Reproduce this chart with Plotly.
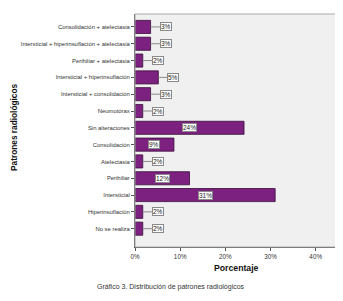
import plotly.graph_objects as go

categories = [
    "Consolidación + atelectasia",
    "Intersticial + hiperinsuflación + atelectasia",
    "Perihiliar + atelectasia",
    "Intersticial + hiperinsuflación",
    "Intersticial + consolidación",
    "Neumotórax",
    "Sin alteraciones",
    "Consolidación",
    "Atelectasia",
    "Perihiliar",
    "Intersticial",
    "Hiperinsuflación",
    "No se realiza",
]
percentages = [3.45, 3.45, 1.72, 5.17, 3.45, 1.72, 24.14, 8.62, 1.72, 12.07, 31.03, 1.72, 1.72]
labels = ["3%", "3%", "2%", "5%", "3%", "2%", "24%", "9%", "2%", "12%", "31%", "2%", "2%"]
x_ticks = [0, 10, 20, 30, 40]
x_tick_labels = ["0%", "10%", "20%", "30%", "40%"]

# page has an 8px body margin; work in figure coords = page coords - 8
OFF = 8
W, H = 343 - OFF, 301 - OFF
L, R, T = 135 - OFF, 7, 14 - OFF
B = H - (247 - OFF)
PW, PH = W - L - R, H - T - B


def px(xp):
    return (xp - OFF - L) / PW


def py(yp):
    return (H - B - (yp - OFF)) / PH


fig = go.Figure()
fig.add_trace(go.Bar(
    x=percentages, y=categories, orientation="h",
    marker=dict(color="#7c2180", line=dict(color="#3a0c3a", width=0.8)),
    width=0.78, hoverinfo="skip",
))

font_fam = "Liberation Sans, Arial, sans-serif"
annotations = []
for cat, val, lab in zip(categories, percentages, labels):
    if val >= 8:
        annotations.append(dict(
            x=val / 2, y=cat, xref="x", yref="y", text=lab, showarrow=False,
            bgcolor="white", bordercolor="#8a8a8a", borderwidth=1, borderpad=0,
            font=dict(size=6.5, color="#222", family=font_fam),
        ))
    else:
        annotations.append(dict(
            x=val, y=cat, xref="x", yref="y", text=lab, showarrow=True,
            arrowhead=0, arrowwidth=1, arrowcolor="#8a8a8a", ax=15, ay=0,
            standoff=0, startstandoff=0,
            bgcolor="white", bordercolor="#8a8a8a", borderwidth=1, borderpad=0,
            font=dict(size=6.5, color="#222", family=font_fam),
        ))

annotations.append(dict(
    x=px(236), y=py(268),
    xref="paper", yref="paper", text="<b>Porcentaje</b>", showarrow=False,
    font=dict(size=8.7, color="#111", family=font_fam), xanchor="center", yanchor="middle",
))
annotations.append(dict(
    x=px(14), y=py(127),
    xref="paper", yref="paper", text="<b>Patrones radiológicos</b>", showarrow=False,
    textangle=-90, font=dict(size=8.3, color="#111", family=font_fam),
    xanchor="center", yanchor="middle",
))
annotations.append(dict(
    x=px(171), y=py(287),
    xref="paper", yref="paper", text="Gráfico 3. Distribución de patrones radiológicos",
    showarrow=False, font=dict(size=7, color="#333", family=font_fam),
    xanchor="center", yanchor="middle",
))

n = len(categories)
fig.update_layout(
    width=W, height=H,
    margin=dict(l=L, r=R, t=T, b=B, pad=0),
    paper_bgcolor="white", plot_bgcolor="#f0f0f0",
    showlegend=False,
    annotations=annotations,
    xaxis=dict(
        range=[0, 44.5], tickvals=x_ticks, ticktext=x_tick_labels,
        showgrid=False, zeroline=False, ticks="outside", ticklen=3, tickcolor="#555",
        showline=True, linecolor="#555", linewidth=1, mirror=False,
        tickfont=dict(size=6.3, color="#333", family=font_fam), automargin=False,
    ),
    yaxis=dict(
        categoryorder="array", categoryarray=categories,
        range=[n - 1 + 1.09, -0.77], autorange=False,
        showgrid=False, zeroline=False, ticks="outside", ticklen=3, tickcolor="#555",
        showline=True, linecolor="#555", linewidth=1,
        tickfont=dict(size=5.9, color="#333", family=font_fam), automargin=False,
    ),
    shapes=[dict(type="rect", xref="paper", yref="paper", x0=0, x1=1, y0=0, y1=1,
                 line=dict(color="#aaaaaa", width=1), layer="above")],
)

fig.write_html("out.html")
